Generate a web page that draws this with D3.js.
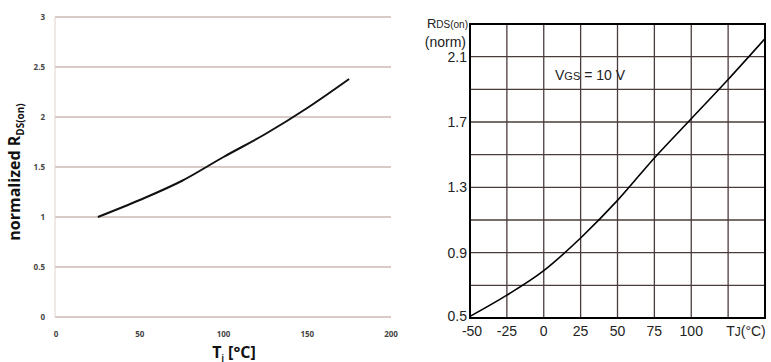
<!DOCTYPE html>
<html>
<head>
<meta charset="utf-8">
<script src="https://cdn.jsdelivr.net/npm/d3@7"></script>
<style>
  body { margin: 0; background: #fff; }
  svg { display: block; }
</style>
</head>
<body>
<div id="chart"></div>
<script>
// left chart: normalized RDS(on) vs Tj
var leftTemp = [25, 50, 75, 100, 125, 150, 175]
var leftRds = [1.0, 1.17, 1.36, 1.60, 1.83, 2.09, 2.38]
var leftXTicks = [0, 50, 100, 150, 200]
var leftYTicks = [0, 0.5, 1, 1.5, 2, 2.5, 3]

// right chart: RDS(on) (norm) vs TJ, VGS = 10 V
var rightTemp = [-50, -25, 0, 25, 50, 75, 100, 125, 150]
var rightRds = [0.51, 0.64, 0.79, 0.99, 1.22, 1.48, 1.72, 1.96, 2.21]
var rightXTicks = [-50, -25, 0, 25, 50, 75, 100]
var rightYLabels = [0.5, 0.9, 1.3, 1.7, 2.1]
var rightYGrid = [0.7, 0.9, 1.1, 1.3, 1.5, 1.7, 1.9, 2.1]
var rightXGrid = [-25, 0, 25, 50, 75, 100, 125]

var width = 771
var height = 362

var svg = d3.select("#chart")
  .append("svg")
    .attr("width", width)
    .attr("height", height)

draw_left()
draw_right()

function draw_left(){
  var x = d3.scaleLinear().domain([0, 200]).range([56, 391])
  var y = d3.scaleLinear().domain([0, 3]).range([317, 17])
  var g = svg.append("g")

  g.append("g").selectAll("line")
    .data(leftYTicks)
    .enter().append("line")
      .attr("x1", 55).attr("x2", 391)
      .attr("y1", d => y(d)).attr("y2", d => y(d))
      .style("stroke", "#cbbab3")
      .style("stroke-width", 1.3)

  g.append("line")
    .attr("x1", 55).attr("x2", 55)
    .attr("y1", y(3)).attr("y2", y(0))
    .style("stroke", "#ddd3cf")
    .style("stroke-width", 1)

  g.append("g").selectAll("text")
    .data(leftYTicks)
    .enter().append("text")
      .text(d => d)
      .attr("x", 45)
      .attr("y", d => y(d) + 3)
      .attr("text-anchor", "end")
      .style("font-family", "Open Sans, sans-serif")
      .style("font-weight", "bold")
      .style("font-size", "8px")
      .style("fill", "#444")

  g.append("g").selectAll("text")
    .data(leftXTicks)
    .enter().append("text")
      .text(d => d)
      .attr("x", d => x(d))
      .attr("y", 337)
      .attr("text-anchor", "middle")
      .style("font-family", "Open Sans, sans-serif")
      .style("font-weight", "bold")
      .style("font-size", "8px")
      .style("fill", "#444")

  var line = d3.line()
    .x((d, i) => x(leftTemp[i]))
    .y(d => y(d))
    .curve(d3.curveMonotoneX)

  g.append("path")
    .datum(leftRds)
    .attr("d", line)
    .style("fill", "none")
    .style("stroke", "#111")
    .style("stroke-width", 2)

  // axis titles
  var yt = g.append("text")
    .attr("transform", "translate(20,172) rotate(-90)")
    .attr("text-anchor", "middle")
    .style("font-family", "Open Sans, sans-serif")
    .style("font-weight", "bold")
    .style("font-size", "16px")
    .style("fill", "#111")
  yt.append("tspan").text("normalized R")
  yt.append("tspan").text("DS(on)").attr("dy", 4).style("font-size", "10px")

  var xt = g.append("text")
    .attr("x", 234)
    .attr("y", 358)
    .attr("text-anchor", "middle")
    .style("font-family", "Open Sans, sans-serif")
    .style("font-weight", "bold")
    .style("font-size", "16px")
    .style("fill", "#111")
  xt.append("tspan").text("T")
  xt.append("tspan").text("j").attr("dy", 3).style("font-size", "8px")
  xt.append("tspan").text(" [°C]").attr("dy", -3)
}

function draw_right(){
  var x = d3.scaleLinear().domain([-50, 150]).range([470, 765])
  var y = d3.scaleLinear().domain([0.5, 2.3]).range([318, 24])
  var g = svg.append("g")
  var font = "Liberation Sans, Arial, sans-serif"

  g.append("g").selectAll("line")
    .data(rightYGrid)
    .enter().append("line")
      .attr("x1", x(-50)).attr("x2", x(150))
      .attr("y1", d => y(d)).attr("y2", d => y(d))
      .style("stroke", "#4a3c3a")
      .style("stroke-width", 1.3)

  g.append("g").selectAll("line")
    .data(rightXGrid)
    .enter().append("line")
      .attr("x1", d => x(d)).attr("x2", d => x(d))
      .attr("y1", y(2.3)).attr("y2", y(0.5))
      .style("stroke", "#4a3c3a")
      .style("stroke-width", 1.3)

  g.append("rect")
    .attr("x", x(-50)).attr("y", y(2.3))
    .attr("width", x(150) - x(-50))
    .attr("height", y(0.5) - y(2.3))
    .style("fill", "none")
    .style("stroke", "#000")
    .style("stroke-width", 2)

  var line = d3.line()
    .x((d, i) => x(rightTemp[i]))
    .y(d => y(d))
    .curve(d3.curveMonotoneX)

  g.append("path")
    .datum(rightRds)
    .attr("d", line)
    .style("fill", "none")
    .style("stroke", "#000")
    .style("stroke-width", 1.6)

  g.append("g").selectAll("text")
    .data(rightYLabels)
    .enter().append("text")
      .text(d => d)
      .attr("x", 467)
      .attr("y", d => d === 0.5 ? y(d) + 3 : y(d) + 5)
      .attr("text-anchor", "end")
      .style("font-family", font)
      .style("font-size", "14px")
      .style("fill", "#222")

  g.append("g").selectAll("text")
    .data(rightXTicks)
    .enter().append("text")
      .text(d => d)
      .attr("x", d => d === -50 ? x(d) + 2 : x(d))
      .attr("y", 336)
      .attr("text-anchor", "middle")
      .style("font-family", font)
      .style("font-size", "14px")
      .style("fill", "#222")

  var tj = g.append("text")
    .attr("x", 746)
    .attr("y", 336)
    .attr("text-anchor", "middle")
    .style("font-family", font)
    .style("font-size", "14px")
    .style("fill", "#222")
  tj.append("tspan").text("T")
  tj.append("tspan").text("J").style("font-size", "12px")
  tj.append("tspan").text("(°C)")

  var rl = g.append("text")
    .attr("x", 468)
    .attr("y", 28)
    .attr("text-anchor", "end")
    .style("font-family", font)
    .style("font-size", "13px")
    .style("fill", "#222")
  rl.append("tspan").text("R")
  rl.append("tspan").text("DS(on)").style("font-size", "10px")

  g.append("text")
    .text("(norm)")
    .attr("x", 466)
    .attr("y", 47)
    .attr("text-anchor", "end")
    .style("font-family", font)
    .style("font-size", "14px")
    .style("fill", "#222")

  var vg = g.append("text")
    .attr("x", 555)
    .attr("y", 80)
    .style("font-family", font)
    .style("font-size", "14px")
    .style("fill", "#222")
  vg.append("tspan").text("V")
  vg.append("tspan").text("GS").style("font-size", "11px")
  vg.append("tspan").text(" = 10 V")
}
</script>
</body>
</html>
